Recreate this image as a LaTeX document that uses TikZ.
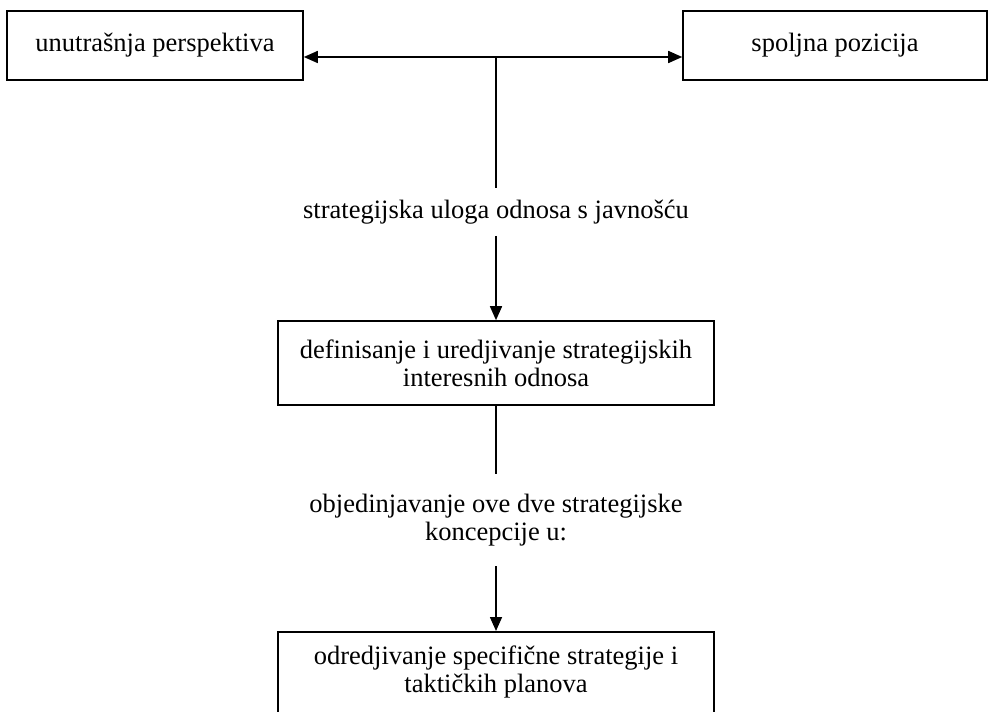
\documentclass[tikz,border=0pt]{standalone}
\usepackage{fontspec}
\setmainfont{Liberation Serif}
\usetikzlibrary{arrows.meta}
\tikzset{
  okvir/.style={draw, line width=0.8pt, align=center, inner sep=0pt},
  tekst/.style={align=center, inner xsep=0pt, text height=9.5pt, text depth=3pt},
  strelica/.style={-{Triangle[length=7pt,width=6pt]}, line width=0.8pt},
  linija/.style={line width=0.8pt},
}
\begin{document}
\begin{tikzpicture}[x=0.5pt, y=-0.5pt, font=\fontsize{13.25}{14}\selectfont]
  \useasboundingbox (0,0) rectangle (988,711);
  \node[okvir, minimum width=148pt, minimum height=34.5pt] (unutrasnja) at (155,45.5) {unutrašnja perspektiva};
  \node[okvir, minimum width=152pt, minimum height=34.5pt] (spoljna) at (835,45.5) {spoljna pozicija};
  \coordinate (spoj) at (496,57);
  \node[tekst, inner ysep=5.5pt] (uloga) at (496,212) {strategijska uloga odnosa s javnošću};
  \node[okvir, minimum width=218pt, minimum height=42pt] (definisanje) at (496,363) {definisanje i uredjivanje strategijskih\\ interesnih odnosa};
  \node[align=center, inner xsep=0pt, inner ysep=10pt] (objedinjavanje) at (496,520) {objedinjavanje ove dve strategijske\\ koncepcije u:};
  \node[okvir, minimum width=218pt, minimum height=60pt, anchor=north] (odredjivanje) at (496,631) {};
  \node[align=center, inner sep=0pt, anchor=north] (odredjivanjeTekst) at ([yshift=-7pt]odredjivanje.north) {odredjivanje specifične strategije i\\ taktičkih planova};
  \draw[strelica] (spoj) -- (spoj -| unutrasnja.east);
  \draw[strelica] (spoj) -- (spoj -| spoljna.west);
  \draw[linija] (spoj) -- (uloga);
  \draw[strelica] (uloga) -- (definisanje);
  \draw[linija] (definisanje) -- (objedinjavanje);
  \draw[strelica] (objedinjavanje) -- (odredjivanje);
\end{tikzpicture}
\end{document}
